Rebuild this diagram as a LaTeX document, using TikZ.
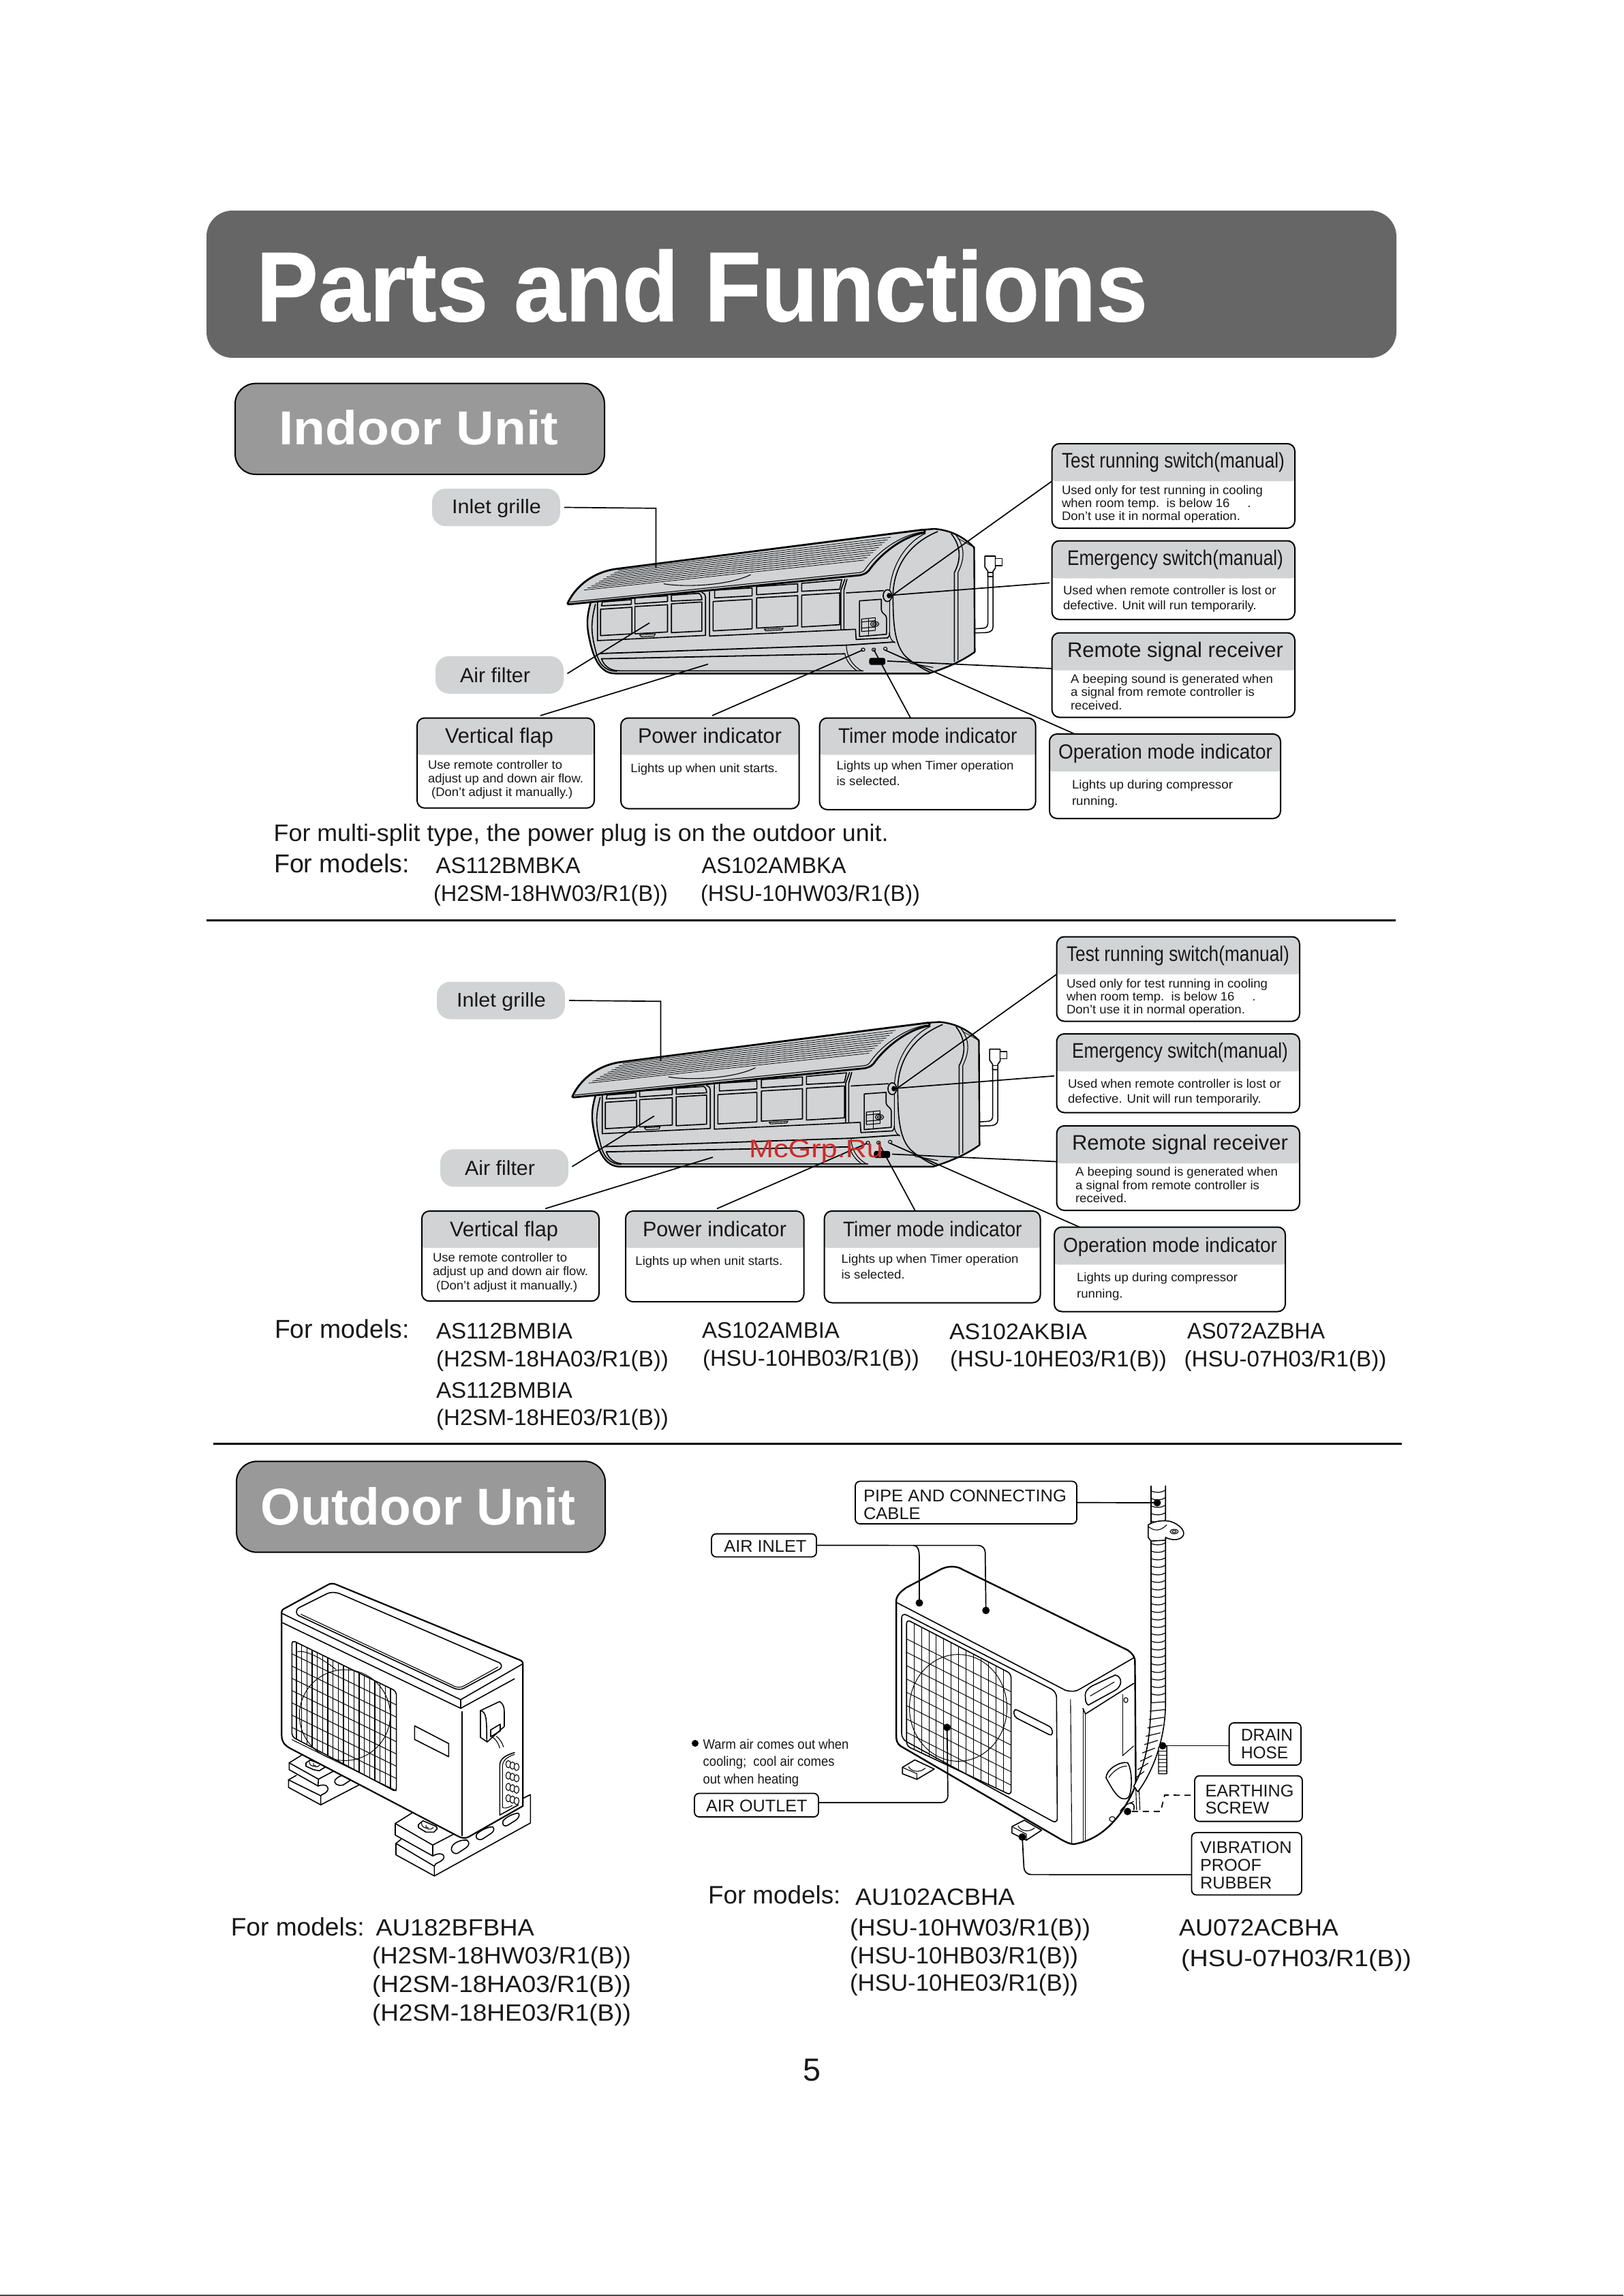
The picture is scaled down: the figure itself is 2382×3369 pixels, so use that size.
\documentclass[tikz,border=0pt]{standalone}
\usepackage{fontspec}
\usepackage{graphicx}
\setmainfont{Liberation Sans}
\newfontface\heavyface{Liberation Sans Bold}[FakeBold=0.7]
\definecolor{ug}{HTML}{D1D3D4}
\definecolor{titlebg}{HTML}{666666}
\definecolor{badgebg}{HTML}{999999}
\definecolor{ink}{HTML}{1A1718}
\definecolor{wm}{HTML}{CC2A2A}
\tikzset{
  tx/.style={inner sep=0,outer sep=0,anchor=base west,text=ink},
  wtx/.style={inner sep=0,outer sep=0,anchor=base west,text=white},
  calloutbox/.style={draw=black,line width=2,fill=white,rounded corners=11,inner sep=0,outer sep=0},
  pill/.style={fill=ug,rounded corners=20,inner sep=0,outer sep=0},
  labelbox/.style={draw=black,line width=1.8,fill=white,rounded corners=7,inner sep=0,outer sep=0},
  badge/.style={draw=black,line width=2,fill=badgebg,rounded corners=30,inner sep=0,outer sep=0},
  leader/.style={draw=black,line width=1.7},
  art/.style={draw=black,line width=1.1,line join=round,line cap=round},
  artb/.style={draw=black,line width=2.4,line join=round,line cap=round},
  artt/.style={draw=black,line width=0.7,line join=round,line cap=round},
}
% width, font size, leading, lines
\newcommand\tb[4]{\resizebox{#1pt}{\height}{\fontsize{#2}{#3}\selectfont\begin{tabular}[t]{@{}l@{}}#4\end{tabular}}}
\newcommand\callout[6]{%
  \node[calloutbox,minimum width={#4-#2},minimum height={#5-#3},
    path picture={\fill[ug,rounded corners=10] ([xshift=-5,yshift=5]path picture bounding box.north west) rectangle ([xshift=5,yshift=-#6]path picture bounding box.north east);}]
    (#1) at ({(#2+#4)/2},{(#3+#5)/2}) {};}
\newcommand\boxed[6]{\node[#6,minimum width={#4-#2},minimum height={#5-#3}] (#1) at ({(#2+#4)/2},{(#3+#5)/2}) {};}
% ---------- indoor unit drawing
\newcommand\indoorart{%
\begin{scope}[shift={(800,740)},xscale=0.4464,yscale=0.3333]
  % cable and plug
  \path[art,line width=1.5] (1455,315) -- (1455,525) .. controls (1455,542) and (1445,546) .. (1435,546) -- (1412,548);
  \path[art,line width=1.5] (1472,315) -- (1472,540) .. controls (1472,558) and (1460,565) .. (1445,565) -- (1412,566);
  \path[art,line width=1.6,fill=white] (1445,228) -- (1480,228) -- (1480,280) -- (1472,295) -- (1472,318) -- (1455,318) -- (1455,295) -- (1445,275) -- cycle;
  \path[art,line width=1.6,fill=white] (1480,238) -- (1502,238) -- (1502,270) -- (1480,270);
  \path[art] (1455,300) -- (1472,300);
  % body
  \path[artb,fill=ug] (1240,112) -- (1280,108) .. controls (1340,115) and (1380,150) .. (1410,190) -- (1412,650) .. controls (1370,690) and (1320,720) .. (1260,745) -- (230,745) .. controls (190,745) and (165,700) .. (150,620) .. controls (135,540) and (135,500) .. (150,430) -- cycle;
  \path[art,line width=1.6] (165,440) .. controls (150,520) and (150,560) .. (165,640) .. controls (175,700) and (195,735) .. (235,735);
  % side panel lines
  \path[art,line width=1.6] (1335,130) .. controls (1370,190) and (1365,250) .. (1345,300) -- (1345,692);
  \path[art] (1350,135) .. controls (1385,195) and (1375,250) .. (1357,300) -- (1357,685);
  \path[artt] (1357,150) -- (1410,190);
  % curved edge of front
  \path[art,line width=1.6] (1290,120) .. controls (1200,170) and (1143,270) .. (1143,410) .. controls (1145,470) and (1140,610) .. (1185,670) .. controls (1210,700) and (1240,725) .. (1270,742);
  \path[art] (1250,128) .. controls (1190,165) and (1130,270) .. (1132,410) -- (1132,570) .. controls (1135,600) and (1145,605) .. (1150,610);
  % filter frame
  \path[art,line width=1.6] (172,430) -- (172,600) -- (527,577) -- (527,410) .. controls (527,395) and (520,390) .. (515,388);
  \path[art,line width=1.6] (540,385) -- (540,580) -- (1020,550) -- (1022,595) -- (1125,588) .. controls (1132,585) and (1132,575) .. (1132,565);
  \path[art,line width=1.6] (985,330) -- (972,378) -- (972,552);
  \path[art,line width=1.6] (992,330) -- (982,378) -- (982,552);
  \path[art,line width=1.6] (990,390) -- (1112,380);
  % panels: left group
  \path[art,line width=1.6] (182,462) -- (285,453) -- (285,570) -- (182,578) -- cycle;
  \path[art,line width=1.6] (295,450) -- (402,442) -- (402,562) -- (295,570) -- cycle;
  \path[art,line width=1.6] (415,438) -- (515,430) -- (515,558) -- (415,565) -- cycle;
  \path[art,line width=1.6] (185,447) -- (188,430) -- (283,420) -- (283,440) -- cycle;
  \path[art,line width=1.6] (295,438) -- (295,412) -- (402,403) -- (402,428) -- cycle;
  \path[art,line width=1.6] (415,426) -- (415,400) -- (505,392) .. controls (512,395) and (515,410) .. (515,420) -- cycle;
  % panels: right group
  \path[art,line width=1.6] (552,428) -- (680,418) -- (680,548) -- (552,557) -- cycle;
  \path[art,line width=1.6] (695,412) -- (830,402) -- (830,535) -- (695,545) -- cycle;
  \path[art,line width=1.6] (843,400) -- (968,390) -- (968,530) -- (843,540) -- cycle;
  \path[art,line width=1.6] (557,412) -- (557,378) -- (680,368) -- (680,403) -- cycle;
  \path[art,line width=1.6] (695,398) -- (695,362) -- (830,350) -- (830,386) -- cycle;
  \path[art,line width=1.6] (843,383) -- (843,348) -- (975,332) -- (968,374) -- cycle;
  % tabs
  \path[art,fill=ug] (310,574) -- (362,570) -- (358,580) -- (316,583) -- cycle;
  \path[art,fill=ug] (720,550) -- (782,546) -- (778,553) -- (725,557) -- cycle;
  % control panel
  \path[art,line width=1.6] (1033,425) -- (1105,418) -- (1105,465) .. controls (1105,480) and (1122,485) .. (1122,500) -- (1122,572) -- (1033,582) -- cycle;
  \path[art] (1040,505) -- (1085,499) -- (1085,555) -- (1040,560) -- cycle;
  \path[art] (1040,518) -- (1085,512); \path[art] (1040,545) -- (1085,540);
  \path[art] (1062,503) -- (1062,580);
  \path[art] (1083,527) ellipse (14 and 11);
  \path[art] (1083,527) ellipse (7 and 5);
  % lower lines
  \path[art,line width=1.8] (180,657) -- (990,620) -- (1148,606);
  \path[art,line width=1.8] (185,680) -- (985,658);
  \path[art,line width=1.6] (185,680) .. controls (195,715) and (215,733) .. (245,733) -- (1045,733);
  \path[art] (990,618) .. controls (990,670) and (1010,710) .. (1040,733);
  \path[art] (985,658) .. controls (990,690) and (1005,715) .. (1025,733);
  \path[art] (1200,700) -- (1275,718);
  % button
  \path[art,line width=1.6,fill=ug] (1125,402) ellipse (14 and 26);
  \path[art,fill=black] (1130,402) ellipse (6 and 10);
  % indicators
  \path[art,fill=ug] (1045,640) ellipse (6 and 7);
  \path[art,fill=ug] (1080,640) ellipse (6 and 7);
  \path[art,fill=ug] (1118,636) ellipse (6 and 7);
  \path[fill=black,rounded corners=3] (1065,676) rectangle (1118,707);
  % flap
  \path[artb,fill=ug,line width=2.8] (75,432) .. controls (105,350) and (165,298) .. (230,285) -- (1240,112) .. controls (1250,113) and (1250,120) .. (1245,125) .. controls (1180,140) and (1110,210) .. (1070,280) .. controls (1060,300) and (1055,305) .. (1035,312) -- (80,440) .. controls (72,440) and (72,436) .. (75,432) -- cycle;
  \path[art] (1240,122) .. controls (1170,135) and (1095,205) .. (1055,280) .. controls (1048,295) and (1045,298) .. (1030,301) -- (82,430);
  \foreach \i in {0,...,9} {
    \path[art,line width=0.75] ({240-12.5*\i},{291+9.6*\i}) -- ({1135-9.6*\i},{145+11.2*\i});
  }
  \path[art] (390,350) .. controls (450,365) and (600,360) .. (675,310);
\end{scope}}
% ---------- indoor block
\newcommand\indoorblock[3]{%
\begin{scope}[shift={(#2,#3)}]
  \indoorart
  \node[pill,minimum width=188,minimum height=55] (#1inlet) at (728,744.5) {};
  \node[tx] (#1inlett) at (663,753.6) {\tb{131}{29}{34}{Inlet grille}};
  \node[pill,minimum width=188,minimum height=55] (#1filter) at (733,990.3) {};
  \node[tx] (#1filtert) at (675,1001) {\tb{103}{30}{35}{Air filter}};
  \callout{#1test}{1543.6}{651}{1900}{775}{55}
  \node[tx] (#1testh) at (1558,686.6) {\tb{327}{31}{35}{Test running switch(manual)}};
  \node[tx] (#1testb) at (1558,725.6) {\tb{295}{18}{19}{Used only for test running in cooling\\when room temp.\ \ is below 16\ \ \ \ \ .\\Don't use it in normal operation.}};
  \callout{#1emer}{1543.6}{793.5}{1900}{909}{55}
  \node[tx] (#1emerh) at (1566,829) {\tb{317}{31}{35}{Emergency switch(manual)}};
  \node[tx] (#1emerb) at (1560,872.5) {\tb{312.5}{18}{22}{Used when remote controller is lost or\\defective. Unit will run temporarily.}};
  \callout{#1rem}{1543.6}{928.5}{1900}{1052.5}{55}
  \node[tx] (#1remh) at (1566,964.4) {\tb{317}{31}{36}{Remote signal receiver}};
  \node[tx] (#1remb) at (1571,1002) {\tb{297}{18}{19.7}{A beeping sound is generated when\\a signal from remote controller is\\received.}};
  \callout{#1oper}{1540}{1077}{1879}{1201}{55}
  \node[tx] (#1operh) at (1553,1113.6) {\tb{314}{30}{35}{Operation mode indicator}};
  \node[tx] (#1operb) at (1573,1157) {\tb{236}{18}{24}{Lights up during compressor\\running.}};
  \callout{#1flap}{612}{1053.5}{872}{1185.7}{54}
  \node[tx] (#1flaph) at (653,1090.6) {\tb{159}{31}{35}{Vertical flap}};
  \node[tx] (#1flapb) at (628,1128) {\tb{228}{18}{20.3}{Use remote controller to\\adjust up and down air flow.\\\ (Don't adjust it manually.)}};
  \callout{#1pow}{911}{1053.5}{1172.5}{1186.6}{54}
  \node[tx] (#1powh) at (936,1090.6) {\tb{211}{31}{35}{Power indicator}};
  \node[tx] (#1powb) at (925.4,1133) {\tb{216}{18}{20}{Lights up when unit starts.}};
  \callout{#1tim}{1202.7}{1053.5}{1519.5}{1188}{54}
  \node[tx] (#1timh) at (1230,1090.6) {\tb{262.6}{31}{35}{Timer mode indicator}};
  \node[tx] (#1timb) at (1227.6,1129.6) {\tb{260}{18}{23}{Lights up when Timer operation\\is selected.}};
  % leaders
  \coordinate (#1a1) at (962.5,745.8); \coordinate (#1a2) at (962.5,833.5);
  \coordinate (#1b) at (953,914);
  \coordinate (#1c) at (1039,974.5);
  \coordinate (#1d) at (1265.5,954);
  \coordinate (#1e) at (1282,953);
  \coordinate (#1f) at (1302,970);
  \coordinate (#1g) at (1299,954);
  \coordinate (#1h) at (1310,873);
  \coordinate (#1i) at (1306,873.5);
  \path[leader] ([xshift=6]#1inlet.east) -- (#1a1) -- (#1a2);
  \path[leader] ([xshift=5.5,yshift=2]#1filter.east) -- (#1b);
  \path[leader] ([xshift=51,yshift=3.5]#1flap.north) -- (#1c);
  \path[leader] ([xshift=3.25,yshift=3.5]#1pow.north) -- (#1d);
  \path[leader] ([xshift=-25]#1tim.north) -- (#1e);
  \path[leader] ([yshift=9.5]#1rem.west) -- (#1f);
  \path[leader] ([xshift=-132.5]#1oper.north) -- (#1g);
  \path[leader] ([yshift=7]#1test.west) -- (#1h);
  \path[leader] ([xshift=-3.6,yshift=-4]#1emer.west) -- (#1i);
\end{scope}}
\begin{document}
\begin{tikzpicture}[x=1pt,y=-1pt]
\useasboundingbox (0,0) rectangle (2382,3369);
\fill[white] (0,0) rectangle (2382,3369);
% title
\node[fill=titlebg,rounded corners=38,inner sep=0,outer sep=0,minimum width=1746,minimum height=216] (title) at (1176,417) {};
\node[wtx] (titlet) at (376,471) {\tb{1308}{145}{170}{\heavyface Parts and Functions}};
\boxed{indoorbadge}{345}{562.7}{887}{696}{badge}
\node[wtx] (indoort) at (409,652.7) {\tb{410}{70}{80}{\bfseries Indoor Unit}};
\indoorblock{p}{0}{0}
\node[tx] (note) at (401.7,1234.5) {\tb{902}{35}{40}{For multi-split type, the power plug is on the outdoor unit.}};
\node[tx] (m1) at (402,1280) {\tb{199}{38}{40}{For models:}};
\node[tx] (m2) at (639.6,1281) {\tb{212}{33}{37}{AS112BMBKA}};
\node[tx] (m3) at (1029.6,1281) {\tb{212}{33}{37}{AS102AMBKA}};
\node[tx] (m4) at (636,1322.5) {\tb{344}{33}{37}{(H2SM-18HW03/R1(B))}};
\node[tx] (m5) at (1028,1322.5) {\tb{322}{33}{37}{(HSU-10HW03/R1(B))}};
\draw[line width=3] (303,1350) -- (2048,1350);
\indoorblock{q}{7}{723.5}
\node[tx] (n1) at (403,1963) {\tb{197.5}{38}{40}{For models:}};
\node[tx] (n2) at (640,1964) {\tb{200}{33}{37}{AS112BMBIA}};
\node[tx] (n3) at (640,2005) {\tb{341}{33}{37}{(H2SM-18HA03/R1(B))}};
\node[tx] (n4) at (640,2051) {\tb{200}{33}{37}{AS112BMBIA}};
\node[tx] (n5) at (640,2091.7) {\tb{341}{33}{37}{(H2SM-18HE03/R1(B))}};
\node[tx] (n6) at (1030,1963) {\tb{202}{33}{37}{AS102AMBIA}};
\node[tx] (n7) at (1031,2004) {\tb{318}{33}{37}{(HSU-10HB03/R1(B))}};
\node[tx] (n8) at (1393,1965) {\tb{202}{33}{37}{AS102AKBIA}};
\node[tx] (n9) at (1394,2005) {\tb{318}{33}{37}{(HSU-10HE03/R1(B))}};
\node[tx] (n10) at (1742,1964) {\tb{202}{33}{37}{AS072AZBHA}};
\node[tx] (n11) at (1737.5,2005) {\tb{297}{33}{37}{(HSU-07H03/R1(B))}};
\node[inner sep=0,outer sep=0,anchor=base west,text=wm] (wmark) at (1099,1698) {\tb{197}{37}{42}{McGrp.Ru}};
\draw[line width=3] (312.6,2118) -- (2057,2118);
\boxed{outdoorbadge}{347}{2144.3}{888}{2277.7}{badge}
\node[wtx] (outdoort) at (382.7,2237.7) {\tb{462}{76}{86}{\bfseries Outdoor Unit}};
% ---------- left outdoor unit
\begin{scope}[shift={(380,2300)},xscale=0.3333,yscale=0.3333]
  % foot rear
  \path[art,line width=1.6] (130,935) -- (165,915); 
  \path[art,line width=1.6] (130,935) -- (130,968) -- (272,1045) -- (445,955);
  \path[art,line width=1.6] (130,935) -- (272,1005) -- (272,1045);
  \path[art,line width=1.6] (133,860) -- (195,822);
  \path[art,line width=1.6] (133,860) -- (133,890) -- (260,962) -- (262,932) -- (133,860);
  \path[art,line width=1.6] (262,932) -- (335,893);
  \path[art,line width=1.6] (260,962) .. controls (295,950) and (312,965) .. (300,985) .. controls (290,998) and (275,998) .. (272,1005);
  \path[art,line width=1.6] (335,935) .. controls (345,925) and (355,918) .. (368,915) -- (405,935) -- (370,958) .. controls (350,965) and (325,950) .. (335,935);
  \path[art,line width=1.6,fill=white] (207,860) -- (225,848) -- (280,868) -- (290,880) -- (265,895) -- (240,890) -- (207,875) -- cycle;
  \path[art] (222,855) .. controls (218,870) and (240,880) .. (250,872);
  \path[art] (240,862) .. controls (235,875) and (255,885) .. (268,870);
  % foot front
  \path[art,line width=1.6] (603,1215) -- (625,1197);
  \path[art,line width=1.6] (603,1215) -- (603,1265) -- (772,1358) -- (1195,1125) -- (1195,1000) -- (1165,1015);
  \path[art,line width=1.6] (603,1215) -- (772,1315) -- (772,1358);
  \path[art,line width=1.6] (600,1127) -- (675,1080);
  \path[art,line width=1.6] (600,1127) -- (600,1178) -- (765,1270) -- (765,1222) -- cycle;
  \path[art,line width=1.6] (765,1222) -- (855,1175);
  \path[art,line width=1.6] (765,1270) .. controls (800,1250) and (822,1265) .. (812,1283) .. controls (800,1300) and (775,1298) .. (772,1315);
  \path[art,line width=1.6] (850,1228) .. controls (860,1210) and (890,1198) .. (915,1200) .. controls (930,1210) and (925,1225) .. (910,1235) -- (875,1258) .. controls (855,1265) and (840,1245) .. (850,1228);
  \path[art,line width=1.6] (958,1175) .. controls (970,1160) and (1010,1140) .. (1030,1142) .. controls (1040,1155) and (1030,1165) .. (1020,1172) -- (985,1195) .. controls (965,1205) and (950,1190) .. (958,1175);
  \path[art,line width=1.6] (1075,1115) .. controls (1085,1100) and (1125,1080) .. (1143,1082) .. controls (1150,1095) and (1140,1105) .. (1130,1113) -- (1095,1135) .. controls (1080,1145) and (1068,1130) .. (1075,1115);
  \path[art,line width=1.6,fill=white] (702,1132) -- (722,1115) -- (780,1140) -- (785,1150) -- (770,1165) -- (735,1165) -- (702,1145) -- cycle;
  \path[art] (716,1125) .. controls (712,1140) and (735,1152) .. (745,1145);
  \path[art] (735,1135) .. controls (730,1150) and (755,1160) .. (768,1145);
  % casing
  \path[art,line width=2.2,fill=white] (100,195) .. controls (100,188) and (105,185) .. (110,182) -- (300,78) .. controls (315,68) and (330,70) .. (340,75) -- (1150,408) .. controls (1160,412) and (1162,418) .. (1162,425) -- (1162,1050) -- (925,1185) .. controls (910,1195) and (890,1190) .. (880,1185) -- (135,795) .. controls (110,780) and (100,765) .. (100,740) -- cycle;
  \path[art,line width=1.6] (103,203) -- (888,582) -- (1160,425);
  \path[art,line width=1.6] (103,243) -- (888,620) -- (1125,490);
  \path[art,line width=1.6] (888,582) -- (888,620);
  \path[art,line width=2] (893,635) -- (893,1180);
  \path[art,line width=1.6] (165,195) .. controls (165,185) and (170,180) .. (180,175) -- (300,115) .. controls (315,108) and (335,108) .. (355,115) -- (1060,420) .. controls (1070,428) and (1070,440) .. (1060,447) -- (905,530) .. controls (890,540) and (870,537) .. (855,530) -- (175,212) .. controls (168,208) and (165,203) .. (165,195) -- cycle;
  \path[art] (185,206) -- (850,518) .. controls (870,530) and (890,530) .. (905,520) -- (1052,438);
  % grill
  \path[art,line width=1.6,rounded corners=5] (145,320) -- (605,545) -- (605,988) -- (145,745) -- cycle;
  \foreach \xx in {165,188,...,590} {
    \path[art,line width=1.05] (\xx,{320+(\xx-145)*0.49}) -- (\xx,{745+(\xx-145)*0.528});
  }
  \foreach \yy in {0,...,7} {
    \path[art,line width=1.05] (145,{380+54*\yy}) -- (605,{605+54*\yy});
  }
  \path[artt,line width=1] (378,650) circle (200);
  \path[artt,line width=1] (170,372) .. controls (200,360) and (280,400) .. (340,450);
  % plate
  \path[art,line width=1.6] (685,697) -- (835,775) -- (835,833) -- (685,757) -- cycle;
  % terminal cover
  \path[art,line width=1.6] (975,630) -- (1060,590) .. controls (1075,600) and (1080,615) .. (1080,635) -- (1080,700) -- (1005,768) -- (975,748) -- cycle;
  \path[art,line width=1.6] (975,630) .. controls (1000,638) and (1003,655) .. (1003,768);
  \path[art,line width=1.6] (1020,715) -- (1062,690) -- (1062,720) -- (1020,745) -- cycle;
  \path[art] (1030,748) .. controls (1048,762) and (1055,778) .. (1060,795);
  \path[art] (1045,743) .. controls (1065,758) and (1070,775) .. (1077,790);
  % vent
  \path[art,line width=1.6] (1125,815) .. controls (1090,825) and (1060,840) .. (1060,872) -- (1060,1090) -- (1142,1045);
  \path[art] (1125,823) .. controls (1095,832) and (1072,850) .. (1072,875) -- (1072,1055) .. controls (1075,1062) and (1095,1060) .. (1115,1048);
  \foreach \ry in {0,1,2,3} {
    \foreach \cx in {0,1,2} {
      \path[art,fill=white] ({1098+18*\cx},{866+50*\ry+6*\cx}) ellipse (11 and 16);
    }
  }
\end{scope}
% ---------- right outdoor unit
\begin{scope}[shift={(1000,2160)},xscale=0.606,yscale=0.408]
  % feet
  \path[art,line width=1.6,fill=white] (535,1062) -- (565,1035) -- (612,1068) -- (570,1105) -- (535,1085) -- cycle;
  \path[art] (550,1060) .. controls (555,1075) and (575,1085) .. (590,1065);
  \path[art] (535,1062) -- (570,1085) -- (570,1105);
  \path[art,line width=1.6,fill=white] (800,1275) -- (830,1252) -- (872,1288) -- (835,1324) -- (800,1298) -- cycle;
  \path[art] (815,1272) .. controls (820,1290) and (840,1298) .. (855,1280);
  \path[art] (800,1275) -- (835,1302) -- (835,1324);
  % casing
  \path[artb,fill=white] (520,460) .. controls (522,440) and (535,425) .. (545,415) -- (630,348) .. controls (650,335) and (670,340) .. (680,350) -- (1080,640) .. controls (1095,655) and (1098,670) .. (1098,680) -- (1100,1125) .. controls (1070,1235) and (1020,1322) .. (950,1338) .. controls (940,1338) and (930,1330) .. (920,1322) -- (530,985) .. controls (522,975) and (520,965) .. (520,950) -- cycle;
  \path[art,line width=1.6] (522,470) -- (930,785) .. controls (945,790) and (955,790) .. (965,780) -- (1095,668);
  \path[art,line width=1.6,rounded corners=8] (533,505) -- (908,790) -- (910,1265) -- (533,960) -- cycle;
  \path[art] (942,818) -- (945,1333);
  \path[art,line width=1.6,rounded corners=6] (545,530) -- (798,725) -- (798,1162) -- (545,985) -- cycle;
  \foreach \xx in {563,581,...,790} {
    \path[art,line width=0.95] (\xx,{530+(\xx-545)*0.771}) -- (\xx,{985+(\xx-545)*0.70});
  }
  \foreach \yy in {0,...,7} {
    \path[art,line width=0.95] (545,{600+48*\yy}) -- (798,{790+48*\yy});
  }
  \path[artt,line width=1] (670,848) ellipse (118 and 192);
  \path[art,line width=1.6,rounded corners=5] (805,850) -- (898,920) -- (898,950) -- (805,880) -- cycle;
  % side details
  \path[art,line width=1.6] (978,810) .. controls (975,790) and (985,775) .. (1000,765) -- (1050,730) .. controls (1068,735) and (1068,770) .. (1050,785) -- (985,838) .. controls (978,830) and (978,820) .. (978,810) -- cycle;
  \path[art] (990,805) -- (1048,755);
  \path[art,line width=1.6] (972,850) -- (978,870) -- (1095,760);
  \path[art,line width=1.6] (978,870) -- (978,1322);
  \path[art] (972,850) -- (972,1325);
  \path[art] (1076,820) ellipse (5 and 9);
  \path[art] (1068,1020) -- (1095,985);
  \path[art] (1068,1020) -- (1068,800);
  \path[art,line width=1.6] (1028,1100) .. controls (1028,1070) and (1060,1040) .. (1080,1045) .. controls (1092,1070) and (1092,1150) .. (1082,1170) .. controls (1060,1195) and (1040,1130) .. (1028,1100) -- cycle;
  \path[art] (1035,1098) .. controls (1045,1075) and (1065,1055) .. (1078,1058);
  \path[art] (1043,1248) ellipse (7 and 9);
  \path[art,line width=1.6] (1085,1190) .. controls (1095,1190) and (1098,1200) .. (1095,1215);
  \path[art] (1062,1220) .. controls (1070,1200) and (1085,1190) .. (1095,1185);
  % pipe
  \path[art,line width=1.6,fill=white] (1137,50) -- (1137,800) .. controls (1137,950) and (1125,1050) .. (1095,1130) -- (1105,1150) .. controls (1145,1070) and (1172,950) .. (1172,830) -- (1172,50);
  \path[art] (1100,1135) -- (1102,1215); \path[art] (1108,1140) -- (1110,1215);
  \foreach \yy in {68,95,...,800} {
    \path[art,line width=1.2] (1137,\yy) .. controls (1148,{\yy+7}) and (1162,{\yy+7}) .. (1172,{\yy-3});
  }
  \foreach \xa/\ya/\xb/\yb in {1136/830/1172/826,1134/860/1171/854,1132/890/1168/882,1129/920/1164/910,1125/950/1159/938,1121/980/1153/965,1116/1010/1146/993,1111/1040/1139/1020,1105/1070/1130/1047,1099/1100/1120/1077} {
    \path[art,line width=1.2] (\xa,\ya) -- (\xb,\yb);
  }
  % clamp
  \path[art,line width=1.6,fill=white] (1130,190) .. controls (1145,175) and (1170,172) .. (1185,178) .. controls (1205,188) and (1220,210) .. (1215,228) .. controls (1208,245) and (1190,248) .. (1172,235) -- (1172,245) -- (1137,248) -- (1130,235) -- cycle;
  \path[art] (1130,195) .. controls (1145,215) and (1160,212) .. (1175,190);
  \path[art] (1193,214) ellipse (10 and 8);
  \path[art] (1193,214) ellipse (5 and 4);
  % drain hose
  \path[art,line width=1.4,fill=white] (1155,990) -- (1175,985) -- (1175,1085) -- (1155,1085) -- cycle;
  \foreach \yy in {1004,1018,...,1075} { \path[art,line width=1] (1155,\yy) -- (1175,\yy); }
\end{scope}
% labels
\boxed{pipebox}{1255}{2173.5}{1580}{2236}{labelbox}
\node[tx] (pipet) at (1267,2203.7) {\tb{298}{25}{25.7}{PIPE AND CONNECTING\\CABLE}};
\boxed{inletbox}{1044}{2250.6}{1198}{2284.5}{labelbox}
\node[tx] (inlett) at (1062.4,2277) {\tb{121}{25}{28}{AIR INLET}};
\boxed{outletbox}{1019}{2631.4}{1201}{2666}{labelbox}
\node[tx] (outlett) at (1036,2658.8) {\tb{148.5}{25}{28}{AIR OUTLET}};
\boxed{drainbox}{1803.6}{2528}{1909}{2590}{labelbox}
\node[tx] (draint) at (1821,2554.7) {\tb{76}{25}{25.7}{DRAIN\\HOSE}};
\boxed{earthbox}{1753}{2605.7}{1911}{2672.6}{labelbox}
\node[tx] (eartht) at (1768.5,2636) {\tb{130}{25}{25.7}{EARTHING\\SCREW}};
\boxed{vibbox}{1748.5}{2689}{1910}{2780.4}{labelbox}
\node[tx] (vibt) at (1761,2719) {\tb{134.5}{25}{26}{VIBRATION\\PROOF\\RUBBER}};
\node[tx] (warmt) at (1031.5,2566) {\tb{214}{20}{25.5}{Warm air comes out when\\cooling;\ \ cool air comes\\out when heating}};
\coordinate (warmdot) at (1020,2558);
\fill (warmdot) circle (5);
% connectors
\coordinate (dpipe) at (1698,2205);
\coordinate (dinA) at (1349,2352);
\coordinate (dinB) at (1446.7,2363);
\coordinate (inbend) at (1445.5,2267.6);
\coordinate (inbr) at (1340,2267.6);
\coordinate (dout) at (1389.7,2534.7);
\coordinate (dobend) at (1391,2645);
\coordinate (ddrain) at (1706,2561.6);
\coordinate (dearth) at (1654.5,2658);
\coordinate (e1) at (1703,2658);
\coordinate (e2) at (1709,2634);
\coordinate (dvib) at (1500,2695.5);
\coordinate (vbend) at (1503,2750.6);
\path[leader] (pipebox.east) -- (dpipe);
\path[leader,rounded corners=10] (inletbox.east) -- (inbend) -- (dinB);
\path[leader] (inbr) .. controls (1348,2268) and (1349,2276) .. (1349,2288) -- (dinA);
\path[leader,rounded corners=10] ([yshift=3.7]outletbox.east) -- (dobend) -- (dout);
\path[leader] ([yshift=-2.6]drainbox.west) -- (ddrain);
\path[leader,dash pattern=on 9pt off 7pt] ([xshift=-6,yshift=5]earthbox.west) -- (e2) -- (e1) -- (dearth);
\path[leader,rounded corners=10] ([yshift=-16]vibbox.west) -- (vbend) -- (dvib);
\foreach \c in {dpipe,dinA,dinB,dout,ddrain,dearth,dvib} { \fill (\c) circle (5.5); }
% models outdoor
\node[tx] (r1) at (1039,2793) {\tb{194.5}{37}{40}{For models:}};
\node[tx] (r2) at (1255,2795) {\tb{234}{34.5}{37}{AU102ACBHA}};
\node[tx] (r3) at (1247,2840) {\tb{353}{34.5}{37}{(HSU-10HW03/R1(B))}};
\node[tx] (r4) at (1247,2881) {\tb{335}{34.5}{37}{(HSU-10HB03/R1(B))}};
\node[tx] (r5) at (1247,2921) {\tb{335}{34.5}{37}{(HSU-10HE03/R1(B))}};
\node[tx] (r6) at (1730,2840) {\tb{234}{34.5}{37}{AU072ACBHA}};
\node[tx] (r7) at (1733,2885) {\tb{338}{34.5}{37}{(HSU-07H03/R1(B))}};
\node[tx] (l1) at (338.8,2840) {\tb{196}{37}{40}{For models:}};
\node[tx] (l2) at (551.5,2840) {\tb{232.5}{34.5}{37}{AU182BFBHA}};
\node[tx] (l3) at (546,2881) {\tb{380}{34.5}{37}{(H2SM-18HW03/R1(B))}};
\node[tx] (l4) at (546,2923) {\tb{380}{34.5}{37}{(H2SM-18HA03/R1(B))}};
\node[tx] (l5) at (546,2965) {\tb{380}{34.5}{37}{(H2SM-18HE03/R1(B))}};
\node[tx] (pagen) at (1178,3053) {\tb{26}{47}{52}{5}};
\draw[line width=2,color=black!70] (0,3367.5) -- (2382,3367.5);
\end{tikzpicture}
\end{document}
